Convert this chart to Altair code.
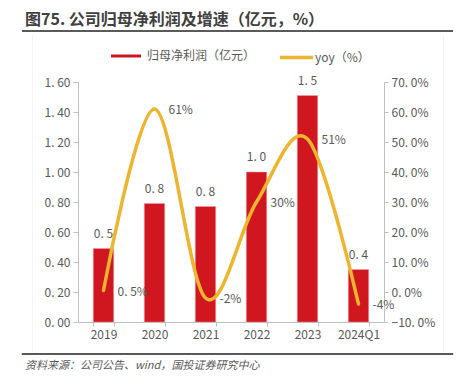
import altair as alt
import pandas as pd

years = ["2019", "2020", "2021", "2022", "2023", "2024Q1"]
profit = [0.49, 0.79, 0.77, 1.00, 1.51, 0.35]
profit_labels = ["0.5", "0.8", "0.8", "1.0", "1.5", "0.4"]
yoy = [0.5, 61, -2, 30, 51, -4]
yoy_labels = ["0.5%", "61%", "-2%", "30%", "51%", "-4%"]

left_ticks = [0, 0.2, 0.4, 0.6, 0.8, 1.0, 1.2, 1.4, 1.6]
right_ticks = [-10, 0, 10, 20, 30, 40, 50, 60, 70]

title_text = "图75. 公司归母净利润及增速（亿元，%）"
source_text = "资料来源：公司公告、wind，国投证券研究中心"
bar_name = "归母净利润（亿元）"
line_name = "yoy（%）"

RED = "#D0161E"
YEL = "#EDB42F"
GREY = "#595959"
AX = "#BFBFBF"
FONT = "Noto Sans CJK SC"

df = pd.DataFrame({
    "year": years,
    "profit": profit,
    "plabel": profit_labels,
    "yoy": yoy,
    "ylabel": yoy_labels,
    "s1": [bar_name] * len(years),
    "s2": [line_name] * len(years),
})

W, H = 306, 240

x = alt.X("year:N", sort=years, title=None,
          scale=alt.Scale(paddingInner=0.6, paddingOuter=0.3),
          axis=alt.Axis(labelAngle=0, tickBand="extent", labelColor=GREY,
                        labelFontSize=12, labelFont=FONT, domainColor=AX,
                        tickColor=AX, tickSize=4, labelPadding=3))

yl = alt.Y("profit:Q", title=None,
           scale=alt.Scale(domain=[0, 1.6], nice=False),
           axis=alt.Axis(orient="left", values=left_ticks, grid=False,
                         labelExpr="replace(format(datum.value, '.2f'), '.', '. ')",
                         labelColor=GREY, labelFontSize=12, labelFont=FONT,
                         domainColor=AX, tickColor=AX, tickSize=5, labelPadding=3))

yr = alt.Y("yoy:Q", title=None,
           scale=alt.Scale(domain=[-10, 70], nice=False),
           axis=alt.Axis(orient="right", values=right_ticks, grid=False,
                         labelExpr="replace(format(datum.value, '.1f'), '.', '. ') + '%'",
                         labelColor=GREY, labelFontSize=12, labelFont=FONT,
                         domainColor=AX, tickColor=AX, tickSize=4, labelPadding=3))

base = alt.Chart(df)

bars = base.mark_bar(stroke="#F2A0A0", strokeWidth=0.5).encode(
    x=x, y=yl,
    color=alt.Color("s1:N", title=None,
                    scale=alt.Scale(domain=[bar_name], range=[RED]),
                    legend=alt.Legend(orient="none", legendX=33, legendY=-41,
                                      symbolType="M-1,-0.1H1V0.1H-1Z",
                                      symbolSize=900, symbolStrokeWidth=0,
                                      labelColor=GREY, labelFontSize=12,
                                      labelFont=FONT, labelOffset=6)),
)
bar_text = base.transform_calculate(
    lab="replace(datum.plabel, '.', '. ')"
).mark_text(baseline="bottom", dy=-8, fontSize=12, font=FONT, color=GREY).encode(
    x=x, y=yl, text="lab:N")

line = base.mark_line(interpolate="cardinal", strokeWidth=3.5, strokeCap="round").encode(
    x=x, y=yr,
    stroke=alt.Stroke("s2:N", title=None,
                      scale=alt.Scale(domain=[line_name], range=[YEL]),
                      legend=alt.Legend(orient="none", legendX=200, legendY=-43,
                                        symbolType="stroke", symbolSize=1089,
                                        symbolStrokeWidth=3.5,
                                        labelColor=GREY, labelFontSize=12,
                                        labelFont=FONT, labelOffset=0)),
)
line_text = base.transform_calculate(
    lab="replace(datum.ylabel, '.', '. ')"
).mark_text(align="left", baseline="middle", dx=14, dy=1, fontSize=12,
            font=FONT, color=GREY).encode(x=x, y=yr, text="lab:N")

one = pd.DataFrame({"a": [0]})

def box(x1, x2, y1, y2, color):
    return alt.Chart(one).mark_rect(color=color).encode(
        x=alt.value(x1), x2=alt.value(x2), y=alt.value(y1), y2=alt.value(y2))

# top separator: drawn as a two-point path
top_pts = pd.DataFrame({"px": [-56, 375], "py": [-51, -51]})
top_sep = alt.Chart(top_pts).mark_line(color="#5A5A5A", strokeWidth=2).encode(
    x=alt.X("px:Q", scale=None), y=alt.Y("py:Q", scale=None))
# bottom separator: drawn as a text of box-drawing rule characters under a rect
bot_sep = alt.Chart(one).mark_rect(fill="#5A5A5A", stroke="#5A5A5A", strokeWidth=1).encode(
    x=alt.value(-56), x2=alt.value(375), y=alt.value(271.5), y2=alt.value(272.5))

decor = [
    box(-46, -45, -47, 270, "#F3F3F3"),
    box(365, 366, -47, 270, "#F3F3F3"),
    top_sep,
    bot_sep,
    box(-78, -73, -52, -50, "#5A5A5A"),
    box(-78, -73, 271, 273, "#5A5A5A"),
]

ttl = alt.Chart(pd.DataFrame({"t": [title_text]})).mark_text(
    align="left", baseline="alphabetic", fontSize=16, font=FONT, fontWeight="bold",
    color="#404040").encode(x=alt.value(-53), y=alt.value(-57), text="t:N")
src = alt.Chart(pd.DataFrame({"t": [source_text]})).mark_text(
    align="left", baseline="middle", fontSize=11, font=FONT, fontStyle="italic",
    color=GREY).encode(x=alt.value(-53), y=alt.value(284), text="t:N")

left_layer = alt.layer(bars, bar_text)
right_layer = alt.layer(line, line_text)

chart = alt.layer(
    *decor, left_layer, right_layer, ttl, src
).resolve_scale(y="independent", color="independent").properties(
    width=W, height=H,
    autosize=alt.AutoSizeParams(type="none"),
    padding={"left": 70, "top": 74, "right": 71, "bottom": 49},
).configure_view(stroke=None)

chart.save("out.html", embed_options={"renderer": "svg", "actions": False})
